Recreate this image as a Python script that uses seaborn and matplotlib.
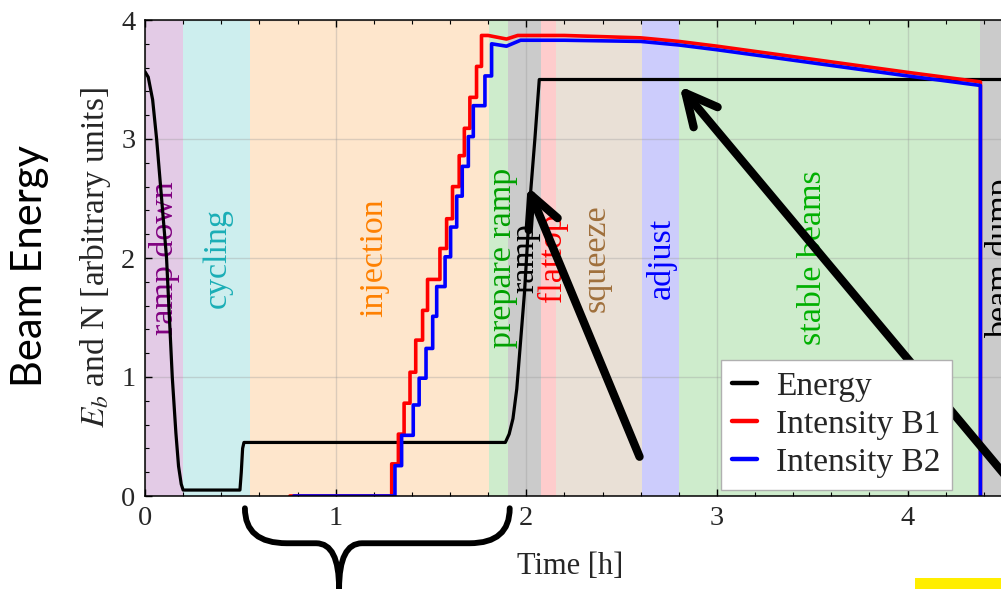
import numpy as np
import pandas as pd
import matplotlib
matplotlib.use("Agg")
import matplotlib.pyplot as plt
from matplotlib.path import Path
from matplotlib.patches import PathPatch, Rectangle
import seaborn as sns

# ---- data -----------------------------------------------------------------
# Beam energy over one LHC fill (time in hours, arbitrary units)
energy_t = [0.0, 0.017, 0.04, 0.061, 0.087, 0.113, 0.128, 0.143, 0.162, 0.176,
            0.19, 0.2, 0.498, 0.505, 0.512, 0.519, 1.89, 1.91, 1.93, 1.95,
            1.97, 1.99, 2.02, 2.045, 2.068, 4.6]
energy_v = [3.565, 3.52, 3.33, 3.0, 2.5, 2.0, 1.5, 1.0, 0.53, 0.25,
            0.1, 0.05, 0.05, 0.2, 0.4, 0.45, 0.45, 0.52, 0.65, 0.9,
            1.3, 1.7, 2.5, 3.0, 3.5, 3.5]

# Beam 1 intensity: empty machine, injection steps, then decay until dump
b1_start = 0.76
b1_step_t = [1.294, 1.329, 1.359, 1.39, 1.42, 1.456, 1.482, 1.547, 1.582,
             1.613, 1.648, 1.675, 1.704, 1.739, 1.765]
b1_step_v = [0.27, 0.52, 0.78, 1.04, 1.31, 1.56, 1.82, 2.08, 2.33,
             2.60, 2.86, 3.09, 3.35, 3.61, 3.87]
b1_tail_t = [1.80, 1.896, 1.955, 2.2, 2.6, 2.8, 3.0, 3.5, 4.0, 4.382, 4.382]
b1_tail_v = [3.87, 3.84, 3.87, 3.87, 3.85, 3.82, 3.78, 3.67, 3.56, 3.48, 0.0]

# Beam 2 intensity
b2_start = 0.78
b2_step_t = [1.311, 1.346, 1.407, 1.438, 1.474, 1.509, 1.530, 1.574, 1.603,
             1.635, 1.664, 1.696, 1.722, 1.783, 1.818]
b2_step_v = [0.255, 0.51, 0.765, 0.99, 1.24, 1.51, 1.76, 2.01, 2.26,
             2.52, 2.77, 3.02, 3.28, 3.53, 3.80]
b2_tail_t = [1.896, 1.97, 2.2, 2.6, 2.8, 3.0, 3.5, 4.0, 4.382, 4.382]
b2_tail_v = [3.78, 3.83, 3.83, 3.82, 3.79, 3.75, 3.64, 3.53, 3.45, 0.0]

# Machine phases
phase_names = ["ramp down", "cycling", "injection", "prepare ramp", "ramp",
               "flattop", "squeeze", "adjust", "stable beams", "beam dump"]
phase_start = [0.0, 0.201, 0.551, 1.806, 1.905, 2.075, 2.155, 2.608, 2.802, 4.378]
phase_end = [0.201, 0.551, 1.806, 1.905, 2.075, 2.155, 2.608, 2.802, 4.378, 4.6]
phase_fill = ["#e3cbe6", "#cdeeee", "#fee6cc", "#ceeccc", "#cbcbcb",
              "#fecccc", "#e9e0d6", "#ccccfc", "#ceeccc", "#cbcbcb"]
phase_text = ["#800080", "#1aaeb6", "#ff8000", "#00a000", "black",
              "#ff0000", "#a0703c", "#0000ff", "#00b000", "black"]
phase_label_x = [0.10, 0.38, 1.20, 1.875, 1.995, 2.135, 2.365, 2.71, 3.5, 4.49]
phase_label_y = 2.0

x_ticks = [0, 1, 2, 3, 4]
y_ticks = [0, 1, 2, 3, 4]


def staircase(start, times, levels):
    """Vertices of a step curve starting at zero at `start`."""
    xs, ys = [start], [0.0]
    prev = 0.0
    for t, v in zip(times, levels):
        xs += [t, t]
        ys += [prev, v]
        prev = v
    return xs, ys


b1_x, b1_y = staircase(b1_start, b1_step_t, b1_step_v)
b1_x += b1_tail_t
b1_y += b1_tail_v
b2_x, b2_y = staircase(b2_start, b2_step_t, b2_step_v)
b2_x += b2_tail_t
b2_y += b2_tail_v

df_energy = pd.DataFrame({"t": energy_t, "v": energy_v})
df_b1 = pd.DataFrame({"t": b1_x, "v": b1_y})
df_b2 = pd.DataFrame({"t": b2_x, "v": b2_y})

# ---- style ----------------------------------------------------------------
sns.set_theme(style="white")
plt.rcParams["font.family"] = ["Liberation Serif", "DejaVu Serif"]
plt.rcParams["mathtext.fontset"] = "stix"

fig = plt.figure(figsize=(10.01, 5.89), dpi=100)
ax = fig.add_axes([145 / 1001, 1 - 496 / 589, 877 / 1001, 476 / 589])

# phase bands
for s, e, c in zip(phase_start, phase_end, phase_fill):
    ax.axvspan(s, e, color=c, lw=0, zorder=0.5)

# curves
sns.lineplot(data=df_energy, x="t", y="v", ax=ax, color="black", lw=2.3,
             estimator=None, sort=False, label="Energy", zorder=2.2)
sns.lineplot(data=df_b1, x="t", y="v", ax=ax, color="#ff0000", lw=2.6,
             estimator=None, sort=False, label="Intensity B1", zorder=2.3)
sns.lineplot(data=df_b2, x="t", y="v", ax=ax, color="#0000ff", lw=2.6,
             estimator=None, sort=False, label="Intensity B2", zorder=2.4)

# phase labels
for name, x, c in zip(phase_names, phase_label_x, phase_text):
    ax.text(x, phase_label_y, name, rotation=90, color=c, fontsize=24.5,
            ha="center", va="center", zorder=1.8, clip_on=True)

# axes limits, ticks, grid
ax.set_xlim(0, 4.6)
ax.set_ylim(0, 4)
ax.set_xticks(x_ticks)
ax.set_yticks(y_ticks)
ax.set_xticks(np.arange(0, 4.61, 0.2), minor=True)
ax.set_yticks(np.arange(0, 4.01, 0.2), minor=True)
ax.tick_params(which="both", direction="in", top=True, right=True,
               bottom=True, left=True, color="black")
ax.tick_params(which="major", length=5, width=1, labelsize=20.5, pad=7)
ax.tick_params(which="minor", length=3, width=0.8)
ax.set_axisbelow("line")
ax.grid(True, which="major", color="#9a9a9a", alpha=0.35, lw=1)
for sp in ax.spines.values():
    sp.set_color("black")
    sp.set_linewidth(1.1)

ax.set_xlabel("Time [h]", fontsize=22)
ax.xaxis.set_label_coords(0.485, -0.118)
ax.set_ylabel("$E_b$ and N [arbitrary units]", fontsize=24)
ax.yaxis.set_label_coords(-0.036, 0.5)

leg = ax.legend(loc="lower right", bbox_to_anchor=(0.92, 0.013), fontsize=24,
                frameon=True, fancybox=False, framealpha=1, edgecolor="#b0b0b0",
                handlelength=0.75, handletextpad=0.55, borderpad=0.35,
                labelspacing=0.23, borderaxespad=0)
leg.get_frame().set_linewidth(1)
for h in leg.get_lines():
    h.set_linewidth(3.2)
leg.set_zorder(6)

# annotation arrows
arrow_style = dict(arrowstyle="->,head_length=1.5,head_width=0.75",
                   color="black", lw=6, mutation_scale=15,
                   shrinkA=0, shrinkB=0)
ax.annotate("", xy=(2.007, 2.6), xytext=(2.594, 0.33),
            arrowprops=arrow_style, zorder=5)
ax.annotate("", xy=(2.804, 3.445), xytext=(4.55, 0.10),
            arrowprops=arrow_style, zorder=5, annotation_clip=False)

# curly brace under the injection period
bx0, bxc, bx1 = 0.524, 1.018, 1.913
by_top, by_mid, by_bot = -0.103, -0.397, -0.78
brace_verts = [
    (bx0, by_top), (bx0, by_mid), (bx0 + 0.22, by_mid),
    (bxc - 0.12, by_mid),
    (bxc, by_mid), (bxc, by_bot),
    (bxc, by_mid), (bxc + 0.12, by_mid),
    (bx1 - 0.21, by_mid),
    (bx1, by_mid), (bx1, by_top),
]
brace_codes = [Path.MOVETO, Path.CURVE3, Path.CURVE3, Path.LINETO,
               Path.CURVE3, Path.CURVE3, Path.CURVE3, Path.CURVE3,
               Path.LINETO, Path.CURVE3, Path.CURVE3]
ax.add_patch(PathPatch(Path(brace_verts, brace_codes), fill=False,
                       lw=4.2, color="black", clip_on=False,
                       capstyle="round", joinstyle="round", zorder=5))

# side caption
fig.text(0.030, 0.548, "Beam Energy", rotation=90, ha="center", va="center",
         fontsize=30, family=["Lato", "DejaVu Sans"], color="black")

# yellow marker in the lower-right corner
fig.patches.append(Rectangle((915 / 1001, 0), 86 / 1001, 11 / 589,
                             transform=fig.transFigure, color="#ffee00",
                             lw=0, zorder=10))

fig.savefig("out.png", dpi=100)
